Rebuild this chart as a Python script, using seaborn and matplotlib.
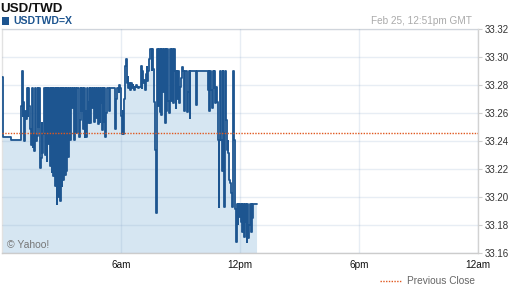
import numpy as np
import pandas as pd
import matplotlib
matplotlib.use("Agg")
import matplotlib.pyplot as plt
from matplotlib.lines import Line2D
from matplotlib.patches import Rectangle
import seaborn as sns

# ---- data (USD/TWD intraday, 2.5-minute steps from midnight GMT) ----
step_minutes = 2.5
prices = [
    # 00:00
    33.286, 33.243, 33.243, 33.243, 33.243, 33.243, 33.243, 33.243, 33.243, 33.243, 33.243, 33.241,
    33.241, 33.241, 33.241, 33.241, 33.241, 33.241, 33.241, 33.241, 33.241, 33.241, 33.241, 33.265,
    # 01:00
    33.290, 33.258, 33.268, 33.240, 33.262, 33.256, 33.278, 33.258, 33.278, 33.265, 33.249, 33.237,
    33.278, 33.236, 33.245, 33.233, 33.278, 33.240, 33.244, 33.278, 33.250, 33.278, 33.221, 33.228,
    # 02:00
    33.253, 33.232, 33.245, 33.278, 33.230, 33.278, 33.226, 33.278, 33.238, 33.278, 33.222, 33.278,
    33.218, 33.278, 33.215, 33.278, 33.208, 33.278, 33.195, 33.278, 33.200, 33.278, 33.197, 33.278,
    # 03:00
    33.208, 33.278, 33.212, 33.278, 33.216, 33.278, 33.219, 33.278, 33.229, 33.278, 33.241, 33.278,
    33.278, 33.264, 33.278, 33.241, 33.278, 33.249, 33.246, 33.278, 33.278, 33.243, 33.255, 33.278,
    # 04:00
    33.262, 33.278, 33.249, 33.278, 33.243, 33.262, 33.243, 33.278, 33.253, 33.268, 33.278, 33.253,
    33.278, 33.264, 33.278, 33.254, 33.278, 33.278, 33.257, 33.278, 33.252, 33.278, 33.254, 33.267,
    # 05:00
    33.278, 33.248, 33.278, 33.254, 33.278, 33.243, 33.260, 33.278, 33.278, 33.278, 33.262, 33.278,
    33.278, 33.278, 33.278, 33.278, 33.278, 33.249, 33.270, 33.278, 33.278, 33.275, 33.280, 33.278,
    # 06:00
    33.258, 33.245, 33.262, 33.245, 33.270, 33.294, 33.299, 33.282, 33.286, 33.278, 33.282, 33.277,
    33.282, 33.278, 33.280, 33.279, 33.277, 33.279, 33.280, 33.279, 33.279, 33.278, 33.279, 33.279,
    # 07:00
    33.294, 33.278, 33.290, 33.282, 33.284, 33.277, 33.288, 33.293, 33.283, 33.290, 33.299, 33.306,
    33.306, 33.291, 33.306, 33.292, 33.268, 33.234, 33.189, 33.265, 33.306, 33.265, 33.306, 33.261,
    # 08:00
    33.306, 33.259, 33.306, 33.275, 33.306, 33.253, 33.306, 33.262, 33.306, 33.269, 33.260, 33.306,
    33.306, 33.269, 33.306, 33.267, 33.306, 33.290, 33.264, 33.290, 33.270, 33.290, 33.267, 33.279,
    # 09:00
    33.279, 33.285, 33.293, 33.290, 33.262, 33.290, 33.290, 33.290, 33.261, 33.275, 33.290, 33.257,
    33.290, 33.290, 33.290, 33.290, 33.290, 33.290, 33.290, 33.266, 33.290, 33.290, 33.290, 33.290,
    # 10:00
    33.290, 33.290, 33.290, 33.290, 33.290, 33.290, 33.290, 33.290, 33.290, 33.277, 33.290, 33.262,
    33.290, 33.277, 33.264, 33.290, 33.278, 33.290, 33.267, 33.279, 33.268, 33.241, 33.193, 33.241,
    # 11:00
    33.290, 33.241, 33.219, 33.290, 33.246, 33.193, 33.290, 33.255, 33.234, 33.240, 33.232, 33.212,
    33.210, 33.203, 33.193, 33.241, 33.290, 33.241, 33.192, 33.168, 33.195, 33.181, 33.195, 33.186,
    # 12:00
    33.195, 33.182, 33.195, 33.175, 33.195, 33.172, 33.195, 33.182, 33.168, 33.195, 33.171, 33.180,
    33.195, 33.175, 33.195, 33.185, 33.195, 33.195, 33.195, 33.195, 33.195,
]
previous_close = 33.246
y_ticks = [33.16, 33.18, 33.20, 33.22, 33.24, 33.26, 33.28, 33.30, 33.32]
x_ticks = [6, 12, 18, 24]
x_labels = ["6am", "12pm", "6pm", "12am"]
title = "USD/TWD"
symbol = "USDTWD=X"
stamp = "Feb 25, 12:51pm GMT"

hours = np.arange(len(prices)) * step_minutes / 60.0
df = pd.DataFrame({"hour": hours, "price": prices})

# ---- style ----
sns.set_style("white")
plt.rcParams["font.family"] = ["Liberation Sans", "DejaVu Sans"]

LINE = "#1d5590"
FILL = "#d6e6f2"
ORANGE = "#e0581f"

fig = plt.figure(figsize=(5.12, 2.88), dpi=100)
ax = fig.add_axes([2 / 512, 34.7 / 288, 476 / 512, 224 / 288])

ymin, ymax = y_ticks[0], y_ticks[-1]
ax.fill_between(df["hour"], df["price"], ymin, step="post",
                color=FILL, lw=0, zorder=1)
sns.lineplot(data=df, x="hour", y="price", ax=ax, drawstyle="steps-post",
             color=LINE, lw=1.3, zorder=3, sort=False)
ax.axhline(previous_close, color=ORANGE, ls=(0, (1, 1)), lw=1.0, zorder=4)

ax.set_xlim(0, 24)
ax.set_ylim(ymin, ymax)
ax.set_xlabel("")
ax.set_ylabel("")

ax.set_xticks(x_ticks)
ax.set_xticklabels(x_labels)
ax.set_xticks(np.arange(0, 24.01, 0.5), minor=True)
ax.set_yticks(y_ticks)
ax.set_yticklabels([f"{v:.2f}" for v in y_ticks])
ax.yaxis.tick_right()

ax.tick_params(axis="x", which="major", length=3, width=0.8, color="#cfcfcf",
               labelsize=7.2, labelcolor="#111111", pad=1.5, direction="out")
ax.tick_params(axis="x", which="minor", length=2, width=0.8, color="#cfcfcf",
               direction="out")
ax.tick_params(axis="y", which="major", length=3, width=0.8, color="#cfcfcf",
               labelsize=7.0, labelcolor="#333333", pad=2, direction="out",
               right=True, left=False)

ax.set_axisbelow(False)
ax.grid(True, which="major", axis="both", color="#7f9fc4", alpha=0.18, lw=1.0)
for gl in ax.get_xgridlines() + ax.get_ygridlines():
    gl.set_zorder(2)

for side, col in [("left", "#e2e2e2"), ("top", "#e2e2e2"),
                  ("right", "#d2d2d2"), ("bottom", "#cccccc")]:
    ax.spines[side].set_visible(True)
    ax.spines[side].set_color(col)
    ax.spines[side].set_linewidth(1.0)

# ---- header texts ----
fig.text(0.5 / 512, 1 - 11.8 / 288, title, fontsize=9.6, fontweight="bold",
         color="#111111", va="baseline", ha="left")
fig.add_artist(Rectangle((2 / 512, 1 - 25 / 288), 7 / 512, 8.5 / 288,
                         transform=fig.transFigure, color=LINE, lw=0))
fig.text(13 / 512, 1 - 24.5 / 288, symbol, fontsize=7.6, fontweight="bold",
         color=LINE, va="baseline", ha="left")
fig.text(472 / 512, 1 - 23.5 / 288, stamp, fontsize=7.2, color="#aaaaaa",
         va="baseline", ha="right")

# ---- footer texts ----
ax.text(7 / 512, 1 - 247.5 / 288, "\u00a9 Yahoo!", transform=fig.transFigure,
        fontsize=7.5, color="#777777", va="baseline", ha="left", zorder=5)
fig.add_artist(Line2D([380 / 512, 402 / 512], [1 - 281 / 288] * 2,
                      transform=fig.transFigure, color=ORANGE,
                      ls=(0, (1, 1)), lw=1.0))
fig.text(407 / 512, 1 - 284.5 / 288, "Previous Close", fontsize=7.3,
         color="#666666", va="baseline", ha="left")

fig.savefig("out.png", dpi=100)
